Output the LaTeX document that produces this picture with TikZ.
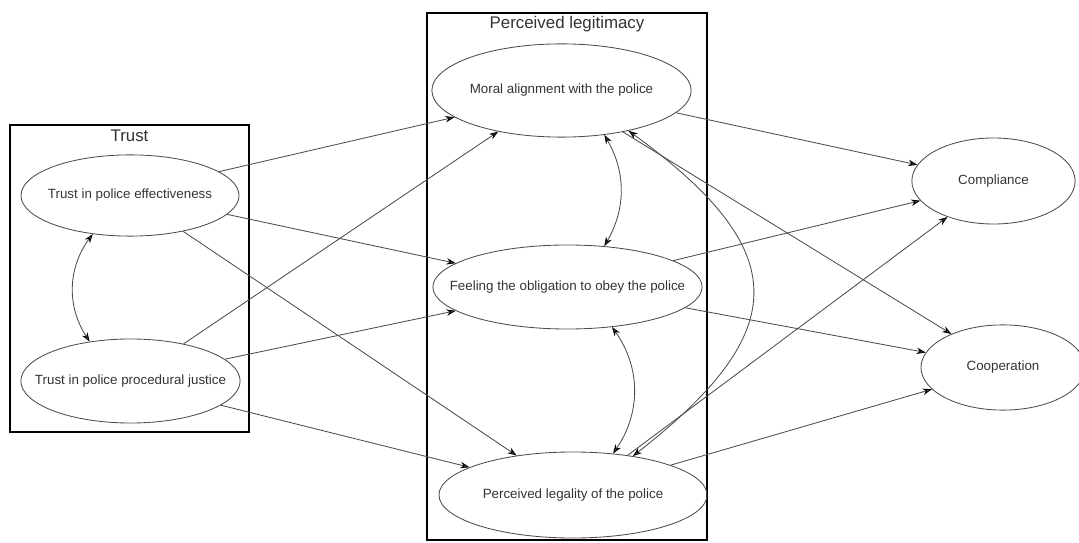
\documentclass[tikz,border=0pt]{standalone}
\usepackage{fontspec}
\setmainfont{Liberation Sans}
\usetikzlibrary{shapes.geometric,arrows.meta}
\tikzset{
  latent/.style={ellipse,draw=black!70,line width=0.6pt,inner sep=0pt},
  groupbox/.style={draw=black,line width=1.6pt},
  grouptitle/.style={font=\fontsize{12}{14}\selectfont},
  >={Stealth[length=6.5pt,width=4.6pt,black]},
}
\begin{document}
\begin{tikzpicture}[x=0.025cm,y=0.025cm,font=\fontsize{9.5}{11}\selectfont,text=black!80]
  \useasboundingbox (0,0) rectangle (1079,-543);
  % groups
  \draw[groupbox] (10,-125) rectangle (249,-432);
  \draw[groupbox] (427,-13) rectangle (707,-540);
  \node[grouptitle] (trustlbl) at (129.5,-136) {Trust};
  \node[grouptitle] (legitlbl) at (567,-24)   {Perceived legitimacy};
  % factors
  \node[latent,minimum width=5.45cm,minimum height=2.03cm,label=center:{Trust in police effectiveness}]        (tpe)   at (130,-195.5)  {};
  \node[latent,minimum width=5.48cm,minimum height=2.1cm,label=center:{Trust in police procedural justice}]    (tpj)   at (130.5,-381)  {};
  \node[latent,minimum width=6.48cm,minimum height=2.33cm,label=center:{Moral alignment with the police}]      (moral) at (561.5,-90.5) {};
  \node[latent,minimum width=6.73cm,minimum height=2.1cm,label=center:{Feeling the obligation to obey the police}] (oblig) at (567.5,-287) {};
  \node[latent,minimum width=6.7cm,minimum height=2.15cm,label=center:{Perceived legality of the police}]      (legal) at (573,-495)    {};
  \node[latent,minimum width=4.08cm,minimum height=2.15cm,label=center:{Compliance}]                           (compl) at (993.5,-181)  {};
  \node[latent,minimum width=4.1cm,minimum height=2.13cm,label=center:{Cooperation}]                           (coop)  at (1003,-367.5) {};
  \path[->,black!70,line width=0.6pt]
    (tpe.-134) edge[<->,bend right=35] (tpj.136)
    (tpe.15)   edge (moral.194)
    (tpe.-11)  edge (oblig.168)
    (tpe.-34)  edge (legal.145)
    (tpj.35)   edge (moral.213)
    (tpj.13)   edge (oblig.192)
    (tpj.-15)  edge (legal.165)
    (moral.-46) edge[<->,bend left=30] (oblig.48)
    (oblig.-42) edge[<->,bend left=35] (legal.46)
    (moral.-31) edge[<->,out=-36,in=38,looseness=1.6] (legal.33)
    (moral.-11) edge (compl.168)
    (moral.-34) edge (coop.147)
    (oblig.14)  edge (compl.195)
    (oblig.-10) edge (coop.169)
    (legal.36)  edge (compl.218)
    (legal.17)  edge (coop.197);
\end{tikzpicture}
\end{document}
